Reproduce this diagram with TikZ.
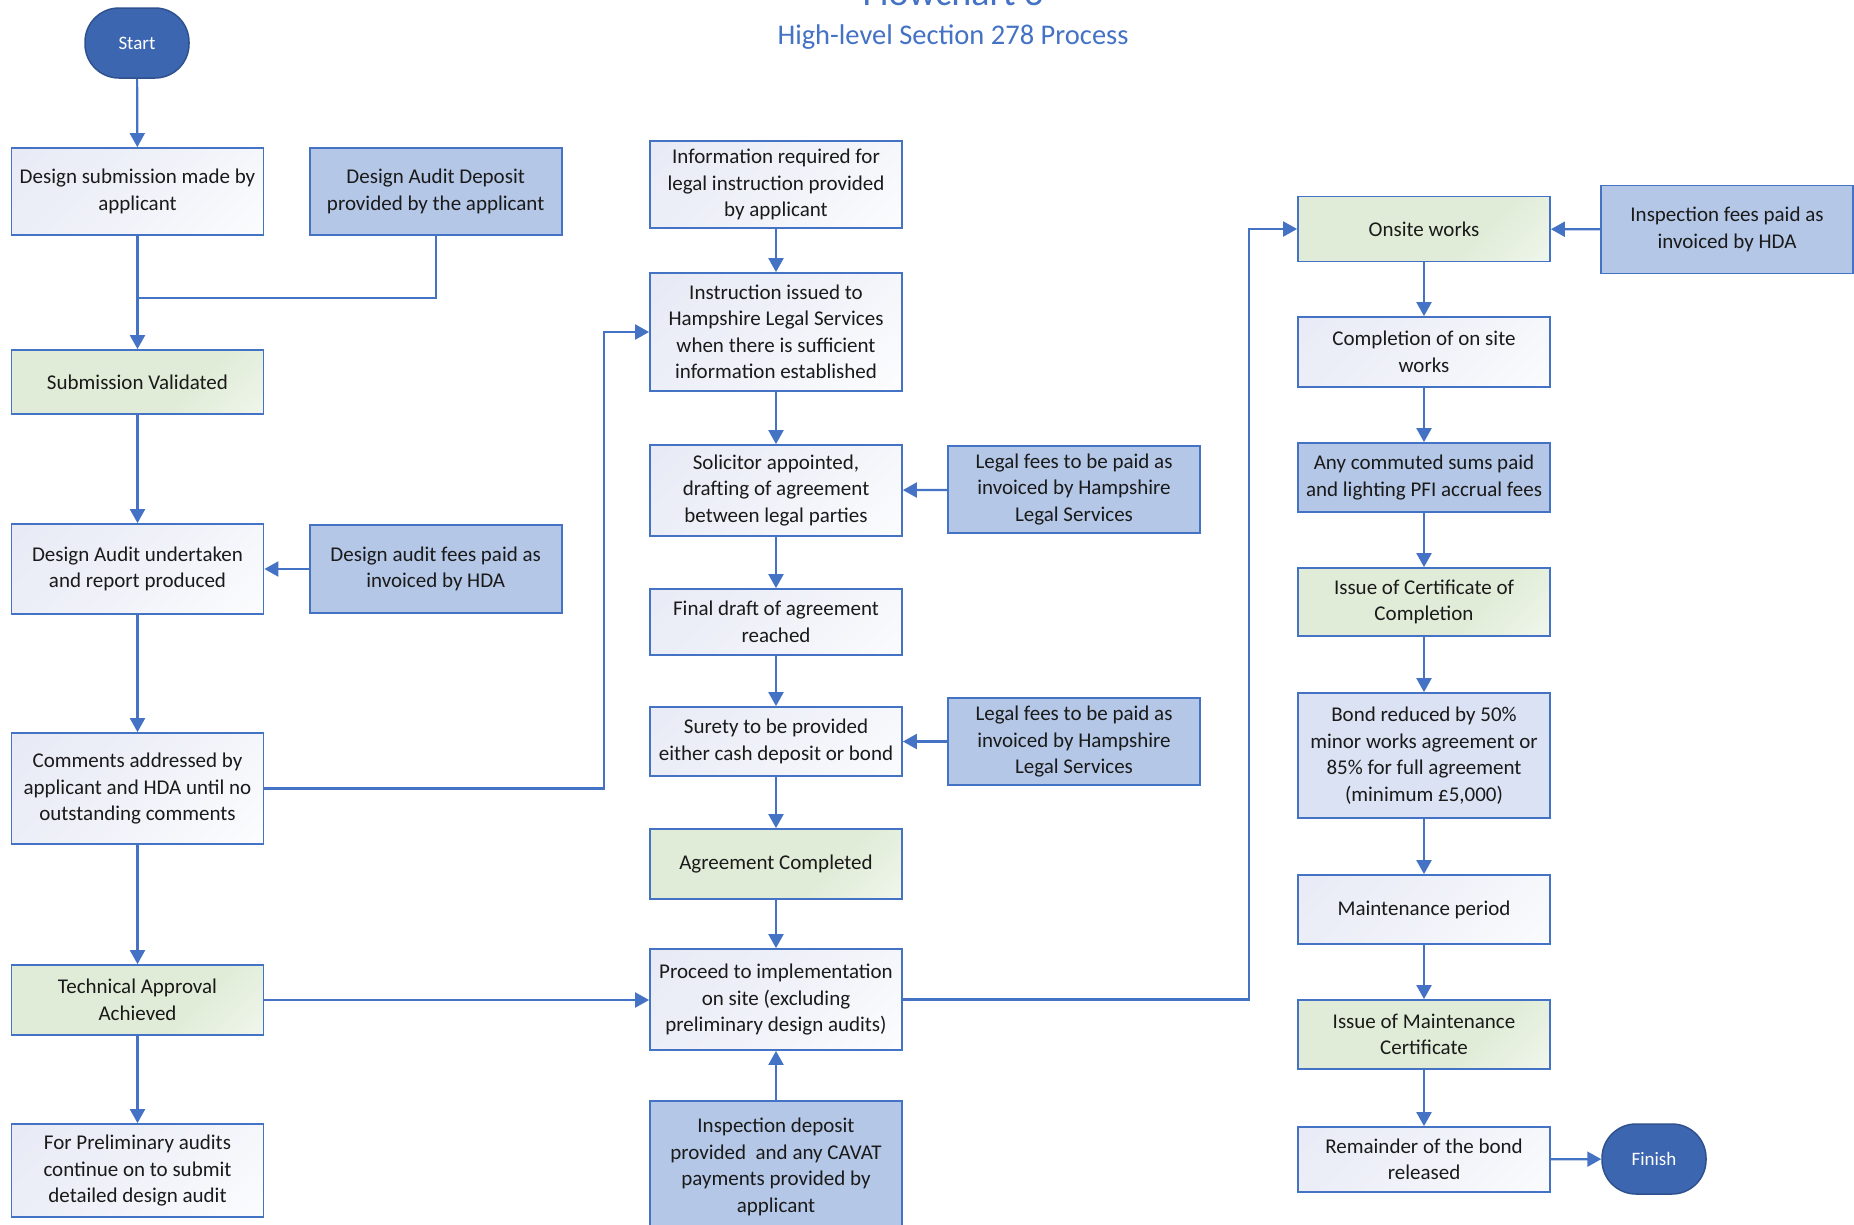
\documentclass[tikz,border=0pt]{standalone}
\usepackage{fontspec}
\setmainfont{Carlito}
\usetikzlibrary{arrows.meta,shadings}
\definecolor{acc}{HTML}{4472C4}
\definecolor{term}{HTML}{3D66B0}
\definecolor{termline}{HTML}{2F528F}
\definecolor{inbox}{HTML}{B4C7E7}
\definecolor{wfill}{HTML}{E4E7F4}
\definecolor{gfill}{HTML}{E0ECD7}
\definecolor{lav}{HTML}{DBE2F3}
\definecolor{txt}{HTML}{1A1A1A}
\pgfdeclareverticalshading{gshade}{100bp}{color(0bp)=(white); color(17bp)=(white); color(30bp)=(gfill!55!white); color(42bp)=(gfill); color(100bp)=(gfill)}
\pgfdeclareverticalshading{wshade}{100bp}{color(0bp)=(white); color(20bp)=(white); color(50bp)=(wfill!55!white); color(82bp)=(wfill); color(100bp)=(wfill)}
\begin{document}
\begin{tikzpicture}[x=1pt,y=-1pt,
  base/.style={draw=acc,line width=1.8pt,minimum width=252pt,align=center,inner sep=2pt,
     text=txt,font=\fontsize{21}{26.5}\selectfont},
  diagshade/.style={path picture={\shade[shading=#1,shading angle=45]
      ([shift={(-130pt,-130pt)}]path picture bounding box.center) rectangle
      ([shift={(130pt,130pt)}]path picture bounding box.center);}},
  wbox/.style={base,diagshade=wshade},
  gbox/.style={base,diagshade=gshade},
  bbox/.style={base,fill=inbox},
  term/.style={draw=termline,line width=1.5pt,fill=term,minimum width=104pt,minimum height=70pt,
     rounded corners=34pt,text=white,font=\fontsize{19}{23}\selectfont},
  conn/.style={draw=acc,line width=2.2pt},
  arr/.style={conn,-{Triangle[length=14pt,width=15pt]}}
]
\useasboundingbox (0,0) rectangle (1854,1224);
\fill[white] (0,0) rectangle (1854,1224);
% titles
\node[anchor=base,text=acc,font=\fontsize{38}{42}\selectfont] (t1) at (953,5) {Flowchart 3};
\node[text=acc,font=\fontsize{28.5}{32}\selectfont] (t2) at (953,37) {High-level Section 278 Process};
% terminals
\node[term] (start) at (137,43) {Start};
\node[term] (finish) at (1654,1159) {Finish};
% column 1
\node[wbox,minimum height=87pt] (ds) at (137.5,191.5) {Design submission made by\\applicant};
\node[gbox,minimum height=64pt] (sv) at (137.5,382) {Submission Validated};
\node[wbox,minimum height=90pt] (dau) at (137.5,569) {Design Audit undertaken\\and report produced};
\node[wbox,minimum height=111pt] (ca) at (137.5,788.5) {Comments addressed by\\applicant and HDA until no\\outstanding comments};
\node[gbox,minimum height=70pt] (ta) at (137.5,1000) {Technical Approval\\Achieved};
\node[wbox,minimum height=93pt] (fp) at (137.5,1170.5) {For Preliminary audits\\continue on to submit\\detailed design audit};
% column 2
\node[bbox,minimum height=87pt] (dad) at (435.7,191.5) {Design Audit Deposit\\provided by the applicant};
\node[bbox,minimum height=88pt] (daf) at (435.7,569) {Design audit fees paid as\\invoiced by HDA};
% column 3
\node[wbox,minimum height=87pt] (ir) at (776,184.5) {Information required for\\legal instruction provided\\by applicant};
\node[wbox,minimum height=118pt] (ii) at (776,332) {Instruction issued to\\Hampshire Legal Services\\when there is sufficient\\information established};
\node[wbox,minimum height=91pt] (sa) at (776,490.5) {Solicitor appointed,\\drafting of agreement\\between legal parties};
\node[wbox,minimum height=66pt] (fd) at (776,622) {Final draft of agreement\\reached};
\node[wbox,minimum height=69pt] (su) at (776,741.5) {Surety to be provided\\either cash deposit or bond};
\node[gbox,minimum height=70pt] (ac) at (776,864) {Agreement Completed};
\node[wbox,minimum height=101pt] (pr) at (776,999.5) {Proceed to implementation\\on site (excluding\\preliminary design audits)};
\node[bbox,minimum height=140pt,text depth=12pt] (id) at (776,1171) {Inspection deposit\\provided\ \ and any CAVAT\\payments provided by\\applicant};
% column 3b
\node[bbox,minimum height=87pt] (lf1) at (1074,489.5) {Legal fees to be paid as\\invoiced by Hampshire\\Legal Services};
\node[bbox,minimum height=87pt] (lf2) at (1074,741.5) {Legal fees to be paid as\\invoiced by Hampshire\\Legal Services};
% column 4
\node[gbox,minimum height=65pt] (ow) at (1424,229) {Onsite works};
\node[wbox,minimum height=70pt] (cw) at (1424,352) {Completion of on site\\works};
\node[bbox,minimum height=69pt] (cs) at (1424,477.5) {Any commuted sums paid\\and lighting PFI accrual fees};
\node[gbox,minimum height=68pt] (cc) at (1424,602) {Issue of Certificate of\\Completion};
\node[bbox,fill=lav,minimum height=125pt] (br) at (1424,755.5) {Bond reduced by 50\%\\minor works agreement or\\85\% for full agreement\\(minimum £5,000)};
\node[wbox,minimum height=69pt] (mp) at (1424,909.5) {Maintenance period};
\node[gbox,minimum height=69pt] (mc) at (1424,1034.5) {Issue of Maintenance\\Certificate};
\node[wbox,minimum height=65pt] (rb) at (1424,1159.5) {Remainder of the bond\\released};
% column 4b
\node[bbox,minimum height=88pt] (if) at (1727,229.5) {Inspection fees paid as\\invoiced by HDA};
% junction coordinates
\coordinate (j1) at (137.5,298);
% connectors column 1
\draw[arr] (start) -- (ds);
\draw[arr] (ds) -- (sv);
\draw[conn] (dad.south) |- (j1);
\draw[arr] (sv) -- (dau);
\draw[arr] (daf) -- (dau);
\draw[arr] (dau) -- (ca);
\draw[arr] (ca) -- (ta);
\draw[arr] (ta) -- (fp);
\draw[arr] (ca.east) -- (604,788.5) |- (ii.west);
\draw[arr] (ta.east) -- (pr.west |- ta.east);
% column 3
\draw[arr] (ir) -- (ii);
\draw[arr] (ii) -- (sa);
\draw[arr] (lf1) -- (sa);
\draw[arr] (sa) -- (fd);
\draw[arr] (fd) -- (su);
\draw[arr] (lf2) -- (su);
\draw[arr] (su) -- (ac);
\draw[arr] (ac) -- (pr);
\draw[arr] (id) -- (pr);
\draw[arr] (pr.east) -- (1248.6,999.5) |- (ow.west);
% column 4
\draw[arr] (if) -- (ow);
\draw[arr] (ow) -- (cw);
\draw[arr] (cw) -- (cs);
\draw[arr] (cs) -- (cc);
\draw[arr] (cc) -- (br);
\draw[arr] (br) -- (mp);
\draw[arr] (mp) -- (mc);
\draw[arr] (mc) -- (rb);
\draw[arr] (rb) -- (finish);
\end{tikzpicture}
\end{document}
